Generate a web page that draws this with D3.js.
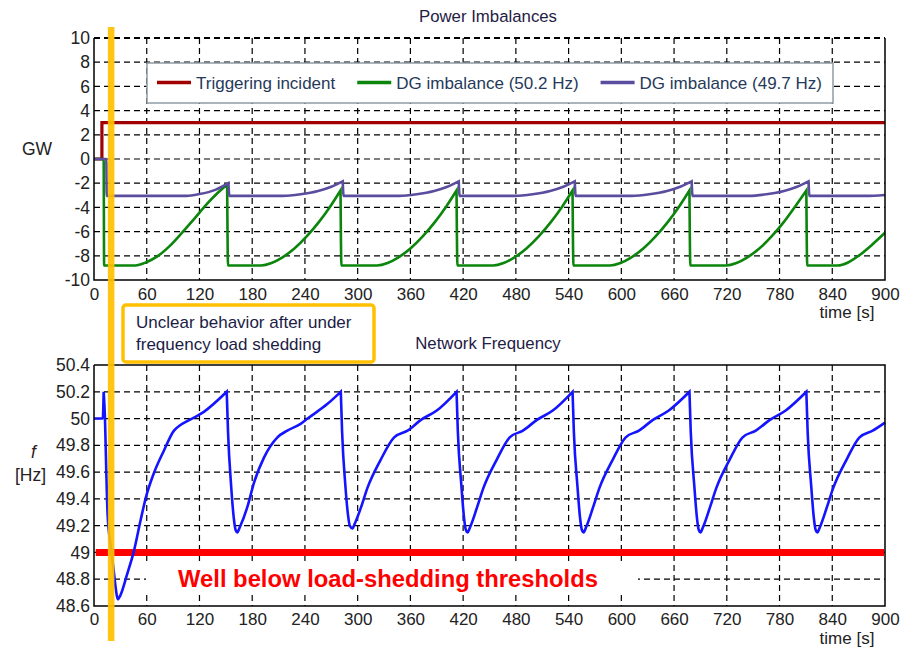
<!DOCTYPE html>
<html>
<head>
<meta charset="utf-8">
<script src="https://cdnjs.cloudflare.com/ajax/libs/d3/7.8.5/d3.min.js"></script>
<style>
    body { margin: 0; background: #fff; }
    svg { display: block; font-family: Arial, 'Liberation Sans', sans-serif; }
    .grid line { stroke: #000; stroke-width: 1.2; stroke-dasharray: 6, 4; }
</style>
</head>
<body>
<svg id="chart" width="904" height="647"></svg>
<script>
(function () {
    'use strict';

    // tick values
    const timeTicks = [0, 60, 120, 180, 240, 300, 360, 420, 480, 540, 600, 660, 720, 780, 840, 900];
    const gwTicks = [-10, -8, -6, -4, -2, 0, 2, 4, 6, 8, 10];
    const hzTicks = [48.6, 48.8, 49, 49.2, 49.4, 49.6, 49.8, 50, 50.2, 50.4];
    const hzTickLabels = ['48.6', '48.8', '49', '49.2', '49.4', '49.6', '49.8', '50', '50.2', '50.4'];

    const seriesNames = ['Triggering incident', 'DG imbalance (50.2 Hz)', 'DG imbalance (49.7 Hz)'];

    // [time s, GW]
    const triggering = [[0, 0], [9, 0], [9.01, 3], [900, 3]];

    const dg502 = [
        [0, 0], [11, 0], [11.5, -8.8], [47, -8.8], [59, -8.55], [72, -8.05], [86, -7.2], [100, -6.1], [114, -4.95], [128, -3.75], [140, -2.85], [151.5, -2.1],
        [152.5, -8.8], [190, -8.8], [202, -8.6], [214, -8.15], [228, -7.4], [242, -6.4], [256, -5.2], [269, -3.9], [280.5, -2.6],
        [281.5, -8.8], [322, -8.8], [334, -8.6], [346, -8.15], [360, -7.4], [374, -6.4], [388, -5.2], [401, -3.9], [412.5, -2.6],
        [413.5, -8.8], [454, -8.8], [466, -8.6], [478, -8.15], [492, -7.4], [506, -6.4], [520, -5.2], [533, -3.9], [544.5, -2.6],
        [545.5, -8.8], [587, -8.8], [599, -8.6], [611, -8.15], [625, -7.4], [639, -6.4], [653, -5.2], [666, -3.9], [677.5, -2.6],
        [678.5, -8.8], [719, -8.8], [731, -8.6], [743, -8.15], [757, -7.4], [771, -6.4], [785, -5.2], [798, -3.9], [810.5, -2.6],
        [811.5, -8.8], [846, -8.8], [858, -8.55], [870, -8.0], [885, -7.1], [900, -6.1]
    ];

    const dg497 = [
        [0, 0], [14, 0], [14.5, -3.05], [105, -3.05], [120, -2.9], [138, -2.55], [153, -2.0], [154, -3.05],
        [215, -3.05], [235, -2.92], [255, -2.65], [270, -2.3], [283, -1.85], [284, -3.05],
        [347, -3.05], [367, -2.92], [387, -2.65], [402, -2.3], [415, -1.85], [416, -3.05],
        [479, -3.05], [499, -2.92], [519, -2.65], [534, -2.3], [547, -1.85], [548, -3.05],
        [612, -3.05], [632, -2.92], [652, -2.65], [667, -2.3], [680, -1.85], [681, -3.05],
        [745, -3.05], [765, -2.92], [785, -2.65], [800, -2.3], [813, -1.85], [814, -3.05],
        [878, -3.05], [900, -2.97]
    ];

    // [time s, Hz]
    const frequency = [
        [0, 50], [10, 50], [11, 50.2], [12.5, 50.0], [14, 49.6], [15.5, 49.28], [19, 49.05], [22.5, 48.86], [25, 48.72], [27, 48.65], [30, 48.68],
        [37.8, 48.84], [45.4, 49.01], [53, 49.24], [59, 49.41], [68, 49.59], [79.5, 49.76], [91, 49.91], [98, 49.95], [106, 49.98], [125, 50.05], [151, 50.2],
        [152.5, 49.9], [156, 49.5], [159, 49.26], [161, 49.17], [163, 49.15], [166, 49.19], [174.5, 49.34], [182, 49.52], [193.5, 49.71], [208.7, 49.86], [220, 49.91], [235, 49.96], [243, 50.0], [265.7, 50.11], [280.8, 50.2],
        [282.3, 49.9], [286, 49.5], [289, 49.28], [291, 49.2], [294, 49.18], [297, 49.22], [304, 49.34], [311, 49.48], [326, 49.69], [341.5, 49.86], [356.8, 49.91], [372, 49.99], [390, 50.06], [412.5, 50.2],
        [414, 49.9], [418, 49.5], [421, 49.26], [423, 49.17], [425, 49.15], [428, 49.19], [436, 49.34], [443, 49.48], [458, 49.69], [473, 49.86], [488, 49.91], [504, 49.99], [522, 50.06], [544.5, 50.2],
        [546, 49.9], [550, 49.5], [553, 49.26], [555, 49.17], [557, 49.15], [560, 49.19], [568, 49.34], [575, 49.48], [590, 49.69], [605, 49.86], [620, 49.91], [636, 49.99], [654, 50.06], [677.5, 50.2],
        [679, 49.9], [683, 49.5], [686, 49.26], [688, 49.17], [690, 49.15], [693, 49.19], [701, 49.34], [708, 49.48], [723, 49.69], [738, 49.86], [753, 49.91], [769, 49.99], [787, 50.06], [810.5, 50.2],
        [812, 49.9], [816, 49.5], [819, 49.26], [821, 49.17], [823, 49.15], [826, 49.19], [834, 49.34], [841, 49.48], [856, 49.69], [871, 49.86], [886, 49.91], [900, 49.97]
    ];

    const thresholdHz = 49;
    const markerTime = 19.5;

    const plotLeft = 94;
    const plotRight = 885;
    const topPanel = { 'top': 38, 'bottom': 280 };
    const bottomPanel = { 'top': 365, 'bottom': 606 };
    const colors = ['#a00000', '#0b850b', '#5a4c9e'];

    const svg = d3.select('#chart');

    let x = d3.scaleLinear()
        .domain([0, 900])
        .range([plotLeft, plotRight]);

    let yGW = d3.scaleLinear()
        .domain([-10, 10])
        .range([topPanel.bottom, topPanel.top]);

    let yHz = d3.scaleLinear()
        .domain([48.6, 50.4])
        .range([bottomPanel.bottom, bottomPanel.top]);

    // smooth each rise separately so the sawtooth peaks stay sharp
    function sawtoothPath(series, line) {
        let pieces = [];
        let start = 0;
        for (let i = 1; i < series.length - 1; i++) {
            if (series[i][1] > series[i - 1][1] && series[i][1] > series[i + 1][1]) {
                pieces.push(series.slice(start, i + 1));
                start = i;
            }
        }
        pieces.push(series.slice(start));
        let d = pieces.map((p) => line(p)).join('');
        return 'M' + d.slice(1).replace(/M/g, 'L');
    }

    function drawGrid(panel, y, yTicks, dashedTop) {
        let grid = svg.append('g').attr('class', 'grid');
        grid.selectAll('.vgrid')
            .data(timeTicks.slice(1, -1))
            .enter().append('line')
                .attr('x1', (d) => x(d))
                .attr('x2', (d) => x(d))
                .attr('y1', panel.top)
                .attr('y2', panel.bottom);
        grid.selectAll('.hgrid')
            .data(yTicks.slice(1, dashedTop ? yTicks.length : -1))
            .enter().append('line')
                .attr('x1', plotLeft)
                .attr('x2', plotRight)
                .attr('y1', (d) => y(d))
                .attr('y2', (d) => y(d))
                .style('stroke-width', (d, i, n) => (dashedTop && i === n.length - 1) ? 2 : null);
    }

    function drawFrame(panel, dashedTop) {
        let path = `M${plotLeft},${panel.top}V${panel.bottom}H${plotRight}V${panel.top}`;
        if (!dashedTop) {
            path += `H${plotLeft}`;
        }
        svg.append('path')
            .attr('d', path)
            .attr('fill', 'none')
            .attr('stroke', '#000')
            .attr('stroke-width', 1.5);
    }

    function drawAxes(panel, y, yTicks, yFormat, xPad) {
        let gx = svg.append('g')
            .attr('transform', `translate(0, ${panel.bottom})`)
            .call(d3.axisBottom(x).tickValues(timeTicks).tickSize(0).tickPadding(xPad));
        gx.select('.domain').remove();
        gx.attr('font-size', 17).attr('font-family', null);
        gx.selectAll('text').attr('fill', '#222');

        let gy = svg.append('g')
            .attr('transform', `translate(${plotLeft}, 0)`)
            .call(d3.axisLeft(y).tickValues(yTicks).tickSize(0).tickPadding(4).tickFormat(yFormat));
        gy.select('.domain').remove();
        gy.attr('font-size', 17.5).attr('font-family', null);
        gy.selectAll('text').attr('fill', '#222');

        svg.append('text')
            .attr('x', 847)
            .attr('y', panel.bottom + 38)
            .attr('text-anchor', 'middle')
            .attr('font-size', 17)
            .attr('fill', '#222')
            .text('time [s]');
    }

    // ---- top panel: power imbalances
    drawGrid(topPanel, yGW, gwTicks, true);

    let lineGW = d3.line()
        .x((d) => x(d[0]))
        .y((d) => yGW(d[1]));
    let smoothGW = d3.line()
        .curve(d3.curveMonotoneX)
        .x((d) => x(d[0]))
        .y((d) => yGW(d[1]));

    [triggering, dg502, dg497].forEach((series, i) => {
        svg.append('path')
            .attr('fill', 'none')
            .attr('stroke', colors[i])
            .attr('stroke-width', i === 0 ? 3.2 : 2.6)
            .attr('d', i === 0 ? lineGW(series) : sawtoothPath(series, smoothGW));
    });

    drawFrame(topPanel, true);
    drawAxes(topPanel, yGW, gwTicks, (d) => String(d), 8);

    svg.append('text')
        .attr('x', 488)
        .attr('y', 22)
        .attr('text-anchor', 'middle')
        .attr('font-size', 16.8)
        .attr('fill', '#1f2044')
        .text('Power Imbalances');

    svg.append('text')
        .attr('x', 22)
        .attr('y', 155)
        .attr('font-size', 17.5)
        .attr('fill', '#222')
        .text('GW');

    // legend
    let legend = svg.append('g');
    legend.append('rect')
        .attr('x', 147)
        .attr('y', 63)
        .attr('width', 686)
        .attr('height', 40)
        .attr('fill', '#fff')
        .attr('stroke', '#8e9ca4')
        .attr('stroke-width', 1.5);

    let lx = 157;
    seriesNames.forEach((name, i) => {
        legend.append('line')
            .attr('x1', lx)
            .attr('x2', lx + 34)
            .attr('y1', 82.5)
            .attr('y2', 82.5)
            .attr('stroke', colors[i])
            .attr('stroke-width', 3.5);
        let t = legend.append('text')
            .attr('x', lx + 39)
            .attr('y', 89)
            .attr('font-size', 17)
            .attr('fill', '#26395a')
            .text(name);
        lx += 39 + t.node().getComputedTextLength() + 22;
    });

    // ---- bottom panel: network frequency
    drawGrid(bottomPanel, yHz, hzTicks, false);

    // white patch behind the threshold note
    svg.append('rect')
        .attr('x', 146)
        .attr('y', 561)
        .attr('width', 492)
        .attr('height', 34)
        .attr('fill', '#fff');

    svg.append('line')
        .attr('x1', x(2))
        .attr('x2', plotRight - 1)
        .attr('y1', yHz(thresholdHz))
        .attr('y2', yHz(thresholdHz))
        .attr('stroke', '#ff0000')
        .attr('stroke-width', 7);

    let smoothHz = d3.line()
        .curve(d3.curveMonotoneX)
        .x((d) => x(d[0]))
        .y((d) => yHz(d[1]));

    svg.append('path')
        .attr('fill', 'none')
        .attr('stroke', '#1414ff')
        .attr('stroke-width', 2.6)
        .attr('d', sawtoothPath(frequency, smoothHz));

    drawFrame(bottomPanel, false);
    drawAxes(bottomPanel, yHz, hzTicks, (d, i) => hzTickLabels[i], 7);

    svg.append('text')
        .attr('x', 488)
        .attr('y', 349)
        .attr('text-anchor', 'middle')
        .attr('font-size', 16.8)
        .attr('fill', '#1f2044')
        .text('Network Frequency');

    svg.append('text')
        .attr('x', 31)
        .attr('y', 458)
        .attr('font-size', 17.5)
        .attr('font-style', 'italic')
        .attr('fill', '#2a2020')
        .text('f');

    svg.append('text')
        .attr('x', 15)
        .attr('y', 481)
        .attr('font-size', 17.5)
        .attr('fill', '#2a2020')
        .text('[Hz]');

    svg.append('text')
        .attr('x', 178)
        .attr('y', 587)
        .attr('font-size', 23.5)
        .attr('font-weight', 'bold')
        .attr('fill', '#ff0000')
        .attr('textLength', 420)
        .attr('lengthAdjust', 'spacingAndGlyphs')
        .text('Well below load-shedding thresholds');

    // ---- annotation: vertical marker and note box
    svg.append('rect')
        .attr('x', x(markerTime) - 3.3)
        .attr('y', 27)
        .attr('width', 6.6)
        .attr('height', 614)
        .attr('fill', '#ffc000')
        .attr('opacity', 0.92);

    svg.append('rect')
        .attr('x', 123)
        .attr('y', 305)
        .attr('width', 251)
        .attr('height', 57)
        .attr('rx', 3)
        .attr('fill', '#fff')
        .attr('stroke', '#ffc000')
        .attr('stroke-width', 3.5);

    let note = svg.append('text')
        .attr('font-size', 17)
        .attr('fill', '#1c1c46');
    note.append('tspan')
        .attr('x', 136)
        .attr('y', 328)
        .text('Unclear behavior after under');
    note.append('tspan')
        .attr('x', 136)
        .attr('y', 350)
        .text('frequency load shedding');
})();
</script>
</body>
</html>
